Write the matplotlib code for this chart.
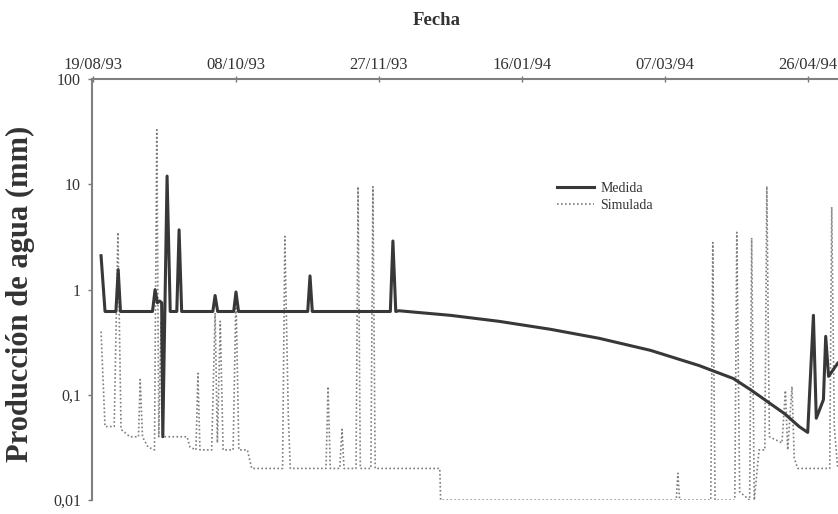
import datetime as dt
import matplotlib
matplotlib.use("Agg")
import matplotlib.pyplot as plt
import matplotlib.dates as mdates

# days counted from the first day of the record (19/08/1993)
start = dt.datetime(1993, 8, 19)

medida_dias = [2.8, 4.2, 8.0, 8.8, 9.6, 20.8, 21.7, 22.5, 23.3, 24.0, 24.4,
               25.9, 27.0, 29.3, 30.1, 31.0, 41.9, 42.7, 43.6, 49.2, 50.0,
               50.9, 75.1, 75.9, 76.7, 104.0, 104.9, 105.9, 107, 125, 142,
               160, 177, 195, 212, 224, 230, 236, 242, 247, 250, 252, 253,
               255.5, 256.3, 257.3, 260.5]
medida_mm = [2.1, 0.62, 0.62, 1.55, 0.62, 0.62, 1.0, 0.75, 0.78, 0.75, 0.04,
             12.0, 0.62, 0.62, 3.7, 0.62, 0.62, 0.88, 0.62, 0.62, 0.95,
             0.62, 0.62, 1.35, 0.62, 0.62, 2.9, 0.62, 0.63, 0.57, 0.50,
             0.42, 0.345, 0.265, 0.19, 0.143, 0.112, 0.086, 0.066, 0.050,
             0.044, 0.57, 0.06, 0.09, 0.36, 0.15, 0.2]

simulada_dias = [2.8, 4.2, 7.4, 8.7, 9.8, 12.9, 15.9, 16.5, 17.3, 19.2, 21.5,
                 22.3, 23.0, 23.8, 24.6, 25.9, 32.9, 33.9, 36.0, 36.7, 37.4,
                 41.5, 42.7, 43.5, 44.5, 45.5, 49.0, 50.0, 51.0, 54.0, 55.5,
                 66.3, 67.1, 68.3, 69.0, 81.5, 82.2, 83.0, 86.3, 87.1, 87.8,
                 92.0, 92.7, 93.5, 97.2, 97.9, 98.7, 121.3, 121.6, 204.0,
                 204.6, 205.2, 216.1, 216.8, 217.6, 224.5, 225.2, 226.2,
                 229.7, 230.4, 231.3, 233.0, 235.0, 235.7, 236.6, 241.0,
                 242.2, 243.0, 244.5, 245.3, 246.5, 257.7, 258.4, 259.3, 260.5]
simulada_mm = [0.4, 0.05, 0.05, 3.5, 0.047, 0.04, 0.04, 0.14, 0.04, 0.032, 0.03,
               33, 0.04, 0.5, 0.04, 0.04, 0.04, 0.032, 0.03, 0.16, 0.03,
               0.03, 0.6, 0.035, 0.5, 0.03, 0.03, 0.9, 0.03, 0.03, 0.02,
               0.02, 3.2, 0.065, 0.02, 0.02, 0.12, 0.02, 0.02, 0.047, 0.02,
               0.02, 9.5, 0.02, 0.02, 9.5, 0.02, 0.02, 0.01, 0.01,
               0.018, 0.01, 0.01, 2.8, 0.01, 0.01, 3.5, 0.012,
               0.01, 3.1, 0.01, 0.03, 0.03, 9.6, 0.04, 0.035,
               0.11, 0.03, 0.12, 0.025, 0.02, 0.02, 6.1, 0.05, 0.02]

tick_dias = [0, 50, 100, 150, 200, 250]
y_ticks = [0.01, 0.1, 1, 10, 100]
y_labels = ["0,01", "0,1", "1", "10", "100"]

t0 = mdates.date2num(start)
x_med = [t0 + d for d in medida_dias]
x_sim = [t0 + d for d in simulada_dias]

serif = "Liberation Serif"
fig = plt.figure(figsize=(8.38, 5.14), dpi=100)
ax = fig.add_axes([0.110, 0.027, 0.89, 0.819])

ax.plot(x_sim, simulada_mm, color="#7e7e7e", lw=1.2, linestyle=(0, (1, 1.4)),
        label="Simulada", zorder=2)
ax.plot(x_med, medida_mm, color="#383838", lw=2.2, label="Medida", zorder=3)

ax.set_yscale("log")
ax.set_ylim(0.01, 100)
ax.set_xlim(t0 - 0.3, t0 + 260.6)
ax.set_yticks(y_ticks)
ax.set_yticklabels(y_labels, fontfamily=serif, fontsize=11.5, color="#333")
ax.yaxis.set_minor_locator(matplotlib.ticker.NullLocator())

ax.xaxis.tick_top()
ax.set_xticks([t0 + d for d in tick_dias])
ax.xaxis.set_major_formatter(mdates.DateFormatter("%d/%m/%y"))
for lab in ax.get_xticklabels():
    lab.set_fontfamily(serif)
    lab.set_fontsize(12)
    lab.set_color("#333")
ax.tick_params(axis="x", direction="inout", length=5, width=1, colors="#777",
               labelcolor="#333", pad=2)
ax.tick_params(axis="y", direction="out", length=3, width=1, colors="#777",
               labelcolor="#333", pad=5)

for side in ("bottom", "right"):
    ax.spines[side].set_visible(False)
for side in ("top", "left"):
    ax.spines[side].set_color("#808080")
    ax.spines[side].set_linewidth(1.5)

ax.xaxis.set_label_position("top")
ax.set_xlabel("Fecha", fontfamily=serif, fontweight="bold", fontsize=13.5, color="#333")
ax.xaxis.set_label_coords((437 - 92) / 746, 1.128)
ax.set_ylabel("Producción de agua (mm)", fontfamily=serif, fontweight="bold",
              fontsize=22, color="#333")
ax.yaxis.set_label_coords(-0.076, 0.49)

handles, labels = ax.get_legend_handles_labels()
ax.legend(handles[::-1], labels[::-1], loc="upper left", bbox_to_anchor=(0.607, 0.785),
          frameon=False, prop={"family": serif, "size": 10}, handlelength=2.6,
          handletextpad=0.5, labelspacing=0.3, labelcolor="#333")

fig.savefig("out.png", dpi=100)
